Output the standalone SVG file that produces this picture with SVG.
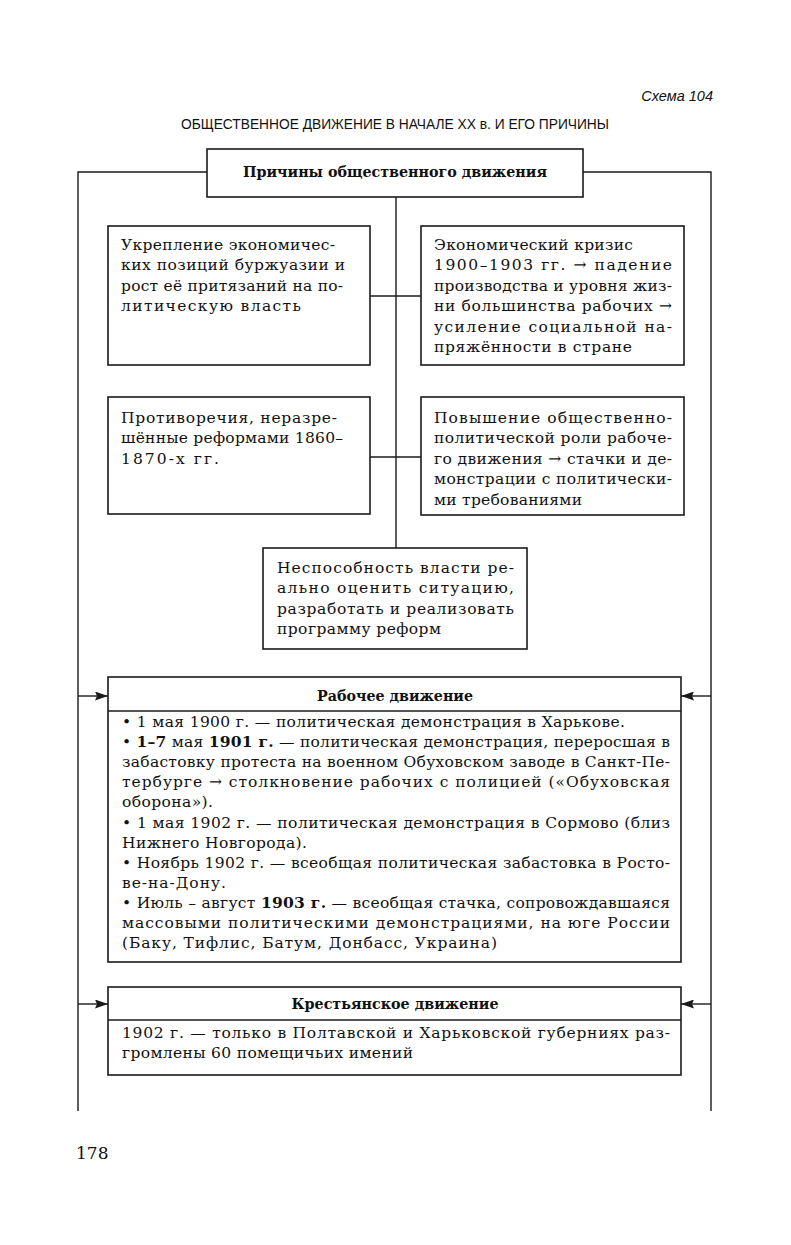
<svg xmlns="http://www.w3.org/2000/svg" width="791" height="1245" viewBox="0 0 791 1245">
<style>
.bg{fill:#ffffff}
.box{fill:#ffffff;stroke:#1a1a1a;stroke-width:1.6}
.ln{fill:none;stroke:#1a1a1a;stroke-width:1.4}
.t{font-family:"DejaVu Serif","Liberation Serif",serif;font-size:15.5px;fill:#111}
.b{font-weight:bold}
.h{font-family:"DejaVu Serif","Liberation Serif",serif;font-size:15.5px;font-weight:bold;fill:#111;text-anchor:middle}
.title{font-family:"Liberation Sans","DejaVu Sans",sans-serif;font-size:14px;fill:#111;text-anchor:middle}
.scheme{font-family:"Liberation Sans","DejaVu Sans",sans-serif;font-size:14.5px;font-style:italic;fill:#111;text-anchor:end}
</style>
<defs>
<marker id="ah" viewBox="0 0 13 9" refX="13" refY="4.5" markerWidth="13" markerHeight="9" markerUnits="userSpaceOnUse" orient="auto">
<path d="M0,0 L13,4.5 L0,9 L2,4.5 Z" fill="#1a1a1a"/>
</marker>
</defs>
<rect class="bg" x="0" y="0" width="791" height="1245"/>

<text class="scheme" x="713" y="101">Схема 104</text>
<text class="title" x="395" y="129" textLength="428" lengthAdjust="spacingAndGlyphs">ОБЩЕСТВЕННОЕ ДВИЖЕНИЕ В НАЧАЛЕ XX в. И ЕГО ПРИЧИНЫ</text>

<g id="connectors">
<polyline class="ln" points="207,172 78,172 78,1111"/>
<polyline class="ln" points="583,172 711,172 711,1111"/>
<line class="ln" x1="396" y1="197" x2="396" y2="548"/>
<line class="ln" x1="370" y1="296" x2="421" y2="296"/>
<line class="ln" x1="370" y1="457" x2="421" y2="457"/>
<line class="ln" x1="78" y1="696" x2="108" y2="696" marker-end="url(#ah)"/>
<line class="ln" x1="711" y1="696" x2="681" y2="696" marker-end="url(#ah)"/>
<line class="ln" x1="78" y1="1004" x2="108" y2="1004" marker-end="url(#ah)"/>
<line class="ln" x1="711" y1="1004" x2="681" y2="1004" marker-end="url(#ah)"/>
</g>

<g id="causes">
<rect class="box" x="207" y="149" width="376" height="48"/>
<text class="h" x="395" y="177" textLength="304" lengthAdjust="spacingAndGlyphs">Причины общественного движения</text>
</g>

<g id="cause1">
<rect class="box" x="108" y="226" width="262" height="139"/>
<text class="t" x="121" y="250" textLength="214" lengthAdjust="spacing">Укрепление экономичес-</text>
<text class="t" x="121" y="270.4" textLength="224" lengthAdjust="spacing">ких позиций буржуазии и</text>
<text class="t" x="121" y="290.8" textLength="222" lengthAdjust="spacing">рост её притязаний на по-</text>
<text class="t" x="121" y="311.2" textLength="180" lengthAdjust="spacing">литическую власть</text>
</g>

<g id="cause2">
<rect class="box" x="421" y="226" width="263" height="139"/>
<text class="t" x="434" y="250" textLength="199" lengthAdjust="spacing">Экономический кризис</text>
<text class="t" x="434" y="270.4" textLength="238" lengthAdjust="spacing">1900–1903 гг. → падение</text>
<text class="t" x="434" y="290.8" textLength="238" lengthAdjust="spacing">производства и уровня жиз-</text>
<text class="t" x="434" y="311.2" textLength="238" lengthAdjust="spacing">ни большинства рабочих →</text>
<text class="t" x="434" y="331.6" textLength="238" lengthAdjust="spacing">усиление социальной на-</text>
<text class="t" x="434" y="352" textLength="198" lengthAdjust="spacing">пряжённости в стране</text>
</g>

<g id="cause3">
<rect class="box" x="108" y="397" width="262" height="117"/>
<text class="t" x="121" y="423" textLength="216" lengthAdjust="spacing">Противоречия, неразре-</text>
<text class="t" x="121" y="443.4" textLength="222" lengthAdjust="spacing">шённые реформами 1860–</text>
<text class="t" x="121" y="463.8" textLength="98" lengthAdjust="spacing">1870-х гг.</text>
</g>

<g id="cause4">
<rect class="box" x="421" y="397" width="263" height="118"/>
<text class="t" x="434" y="423" textLength="238" lengthAdjust="spacing">Повышение общественно-</text>
<text class="t" x="434" y="443.4" textLength="238" lengthAdjust="spacing">политической роли рабоче-</text>
<text class="t" x="434" y="463.8" textLength="238" lengthAdjust="spacing">го движения → стачки и де-</text>
<text class="t" x="434" y="484.2" textLength="238" lengthAdjust="spacing">монстрации с политически-</text>
<text class="t" x="434" y="504.6" textLength="148" lengthAdjust="spacing">ми требованиями</text>
</g>

<g id="cause5">
<rect class="box" x="263" y="548" width="264" height="101"/>
<text class="t" x="277" y="573" textLength="237" lengthAdjust="spacing">Неспособность власти ре-</text>
<text class="t" x="277" y="593.4" textLength="237" lengthAdjust="spacing">ально оценить ситуацию,</text>
<text class="t" x="277" y="613.8" textLength="237" lengthAdjust="spacing">разработать и реализовать</text>
<text class="t" x="277" y="634.2" textLength="164" lengthAdjust="spacing">программу реформ</text>
</g>

<g id="workers">
<rect class="box" x="108" y="677" width="573" height="285"/>
<line class="ln" x1="108" y1="711" x2="681" y2="711"/>
<text class="h" x="395" y="701" textLength="156" lengthAdjust="spacingAndGlyphs">Рабочее движение</text>
<text class="t" x="122" y="727" textLength="503" lengthAdjust="spacing">• 1 мая 1900 г. — политическая демонстрация в Харькове.</text>
<text class="t" x="122" y="747.1" textLength="548" lengthAdjust="spacing">• <tspan class="b">1–7</tspan> мая <tspan class="b">1901 г.</tspan> — политическая демонстрация, переросшая в</text>
<text class="t" x="122" y="767.2" textLength="548" lengthAdjust="spacing">забастовку протеста на военном Обуховском заводе в Санкт-Пе-</text>
<text class="t" x="122" y="787.3" textLength="548" lengthAdjust="spacing">тербурге → столкновение рабочих с полицией («Обуховская</text>
<text class="t" x="122" y="807.4" textLength="91" lengthAdjust="spacing">оборона»).</text>
<text class="t" x="122" y="827.5" textLength="548" lengthAdjust="spacing">• 1 мая 1902 г. — политическая демонстрация в Сормово (близ</text>
<text class="t" x="122" y="847.6" textLength="185" lengthAdjust="spacing">Нижнего Новгорода).</text>
<text class="t" x="122" y="867.7" textLength="548" lengthAdjust="spacing">• Ноябрь 1902 г. — всеобщая политическая забастовка в Росто-</text>
<text class="t" x="122" y="887.8" textLength="104" lengthAdjust="spacing">ве-на-Дону.</text>
<text class="t" x="122" y="907.9" textLength="548" lengthAdjust="spacing">• Июль – август <tspan class="b">1903 г.</tspan> — всеобщая стачка, сопровождавшаяся</text>
<text class="t" x="122" y="928" textLength="548" lengthAdjust="spacing">массовыми политическими демонстрациями, на юге России</text>
<text class="t" x="122" y="948.1" textLength="375" lengthAdjust="spacing">(Баку, Тифлис, Батум, Донбасс, Украина)</text>
</g>

<g id="peasants">
<rect class="box" x="108" y="987" width="573" height="88"/>
<line class="ln" x1="108" y1="1020" x2="681" y2="1020"/>
<text class="h" x="395" y="1009" textLength="207" lengthAdjust="spacingAndGlyphs">Крестьянское движение</text>
<text class="t" x="122" y="1038" textLength="548" lengthAdjust="spacing">1902 г. — только в Полтавской и Харьковской губерниях раз-</text>
<text class="t" x="122" y="1058" textLength="291" lengthAdjust="spacing">громлены 60 помещичьих имений</text>
</g>

<text class="t" x="76" y="1159" style="font-size:17px">178</text>
</svg>
